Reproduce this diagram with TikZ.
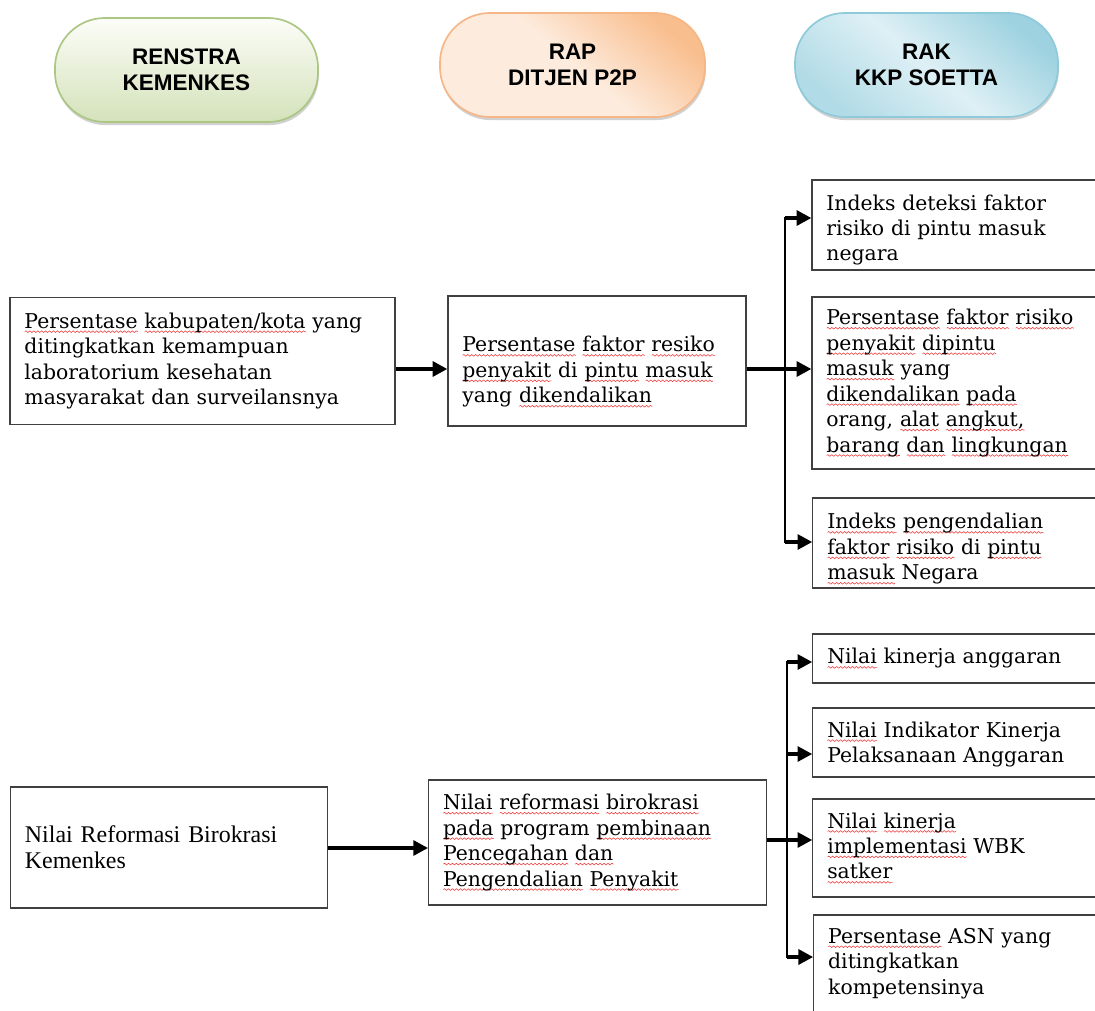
\documentclass[tikz,border=0pt]{standalone}
\usepackage{fontspec}
\setmainfont{DejaVu Serif}
\newfontfamily\headf{Liberation Sans}
\newfontfamily\timesf{Liberation Serif}
\usetikzlibrary{arrows.meta,shadows,decorations.pathmorphing}
\definecolor{gBorder}{RGB}{172,198,132}
\definecolor{gTop}{RGB}{252,253,248}
\definecolor{gBot}{RGB}{212,226,186}
\definecolor{oBorder}{RGB}{246,182,134}
\definecolor{oLight}{RGB}{253,236,222}
\definecolor{oDark}{RGB}{249,190,142}
\definecolor{bBorder}{RGB}{142,202,218}
\definecolor{bLight}{RGB}{222,240,245}
\definecolor{bDark}{RGB}{158,210,224}
\definecolor{sqred}{RGB}{240,60,60}
\newsavebox\sqbox
\newlength\sqlen
\newcommand\sq[1]{\sbox\sqbox{#1}\setlength\sqlen{\wd\sqbox}\leavevmode\rlap{\tikz[baseline=0pt]\draw[sqred, line width=0.4pt, decorate, decoration={snake, amplitude=0.6pt, segment length=2.8pt}] (0pt,-2.4pt) -- (\sqlen,-2.4pt);}\usebox\sqbox}
\newcommand\up[1]{\rule{0pt}{#1}}
\tikzset{
  box/.style={draw=black!75, line width=0.8pt, align=left, inner xsep=0.36cm, inner ysep=0pt,
    font=\fontsize{14.5}{18.1}\selectfont},
  tbox/.style={box, font=\timesf\fontsize{17}{18.6}\selectfont},
  pill/.style={rounded corners=1.25cm, minimum height=2.6cm, line width=1.2pt, align=center,
    font=\headf\bfseries\fontsize{16}{18.5}\selectfont,
    drop shadow={shadow xshift=0.6pt, shadow yshift=-2.2pt, opacity=0.3, fill=black!60}},
  arr/.style={line width=2.8pt, -{Triangle[length=10.5pt,width=10.5pt]}},
  bus/.style={line width=2pt, line cap=rect},
}
\begin{document}
\begin{tikzpicture}[x=0.025cm,y=-0.025cm]
\useasboundingbox (0,0) rectangle (1095,1010);
% header pills
\node[pill, draw=gBorder, top color=gTop, bottom color=gBot, minimum width=6.575cm] (p1) at (186.5,70) {RENSTRA\\KEMENKES};
\node[pill, draw=oBorder, top color=oDark, bottom color=oLight, middle color=oLight, shading angle=-40, minimum width=6.625cm] (p2) at (572.5,65) {RAP\\DITJEN P2P};
\node[pill, draw=bBorder, top color=bDark, bottom color=bDark!70!bLight, middle color=bLight, shading angle=-40, minimum width=6.575cm] (p3) at (926.5,65) {RAK\\KKP SOETTA};
% upper row
\node[box, minimum height=3.175cm, text width=8.9cm] (A1) at (202.5,361)
  {\sq{Persentase} \sq{kabupaten/kota} yang\\ ditingkatkan kemampuan\\ laboratorium kesehatan\\ masyarakat dan surveilansnya};
\node[box, minimum height=3.25cm, text width=6.73cm] (B1) at (597,361)
  {\up{26.6pt}\sq{Persentase} \sq{faktor} \sq{resiko}\\ \sq{penyakit} di \sq{pintu} \sq{masuk}\\ yang \sq{dikendalikan}};
\node[box, minimum height=2.25cm, text width=6.48cm] (C1) at (956,225)
  {\up{18.1pt}Indeks deteksi faktor\\ risiko di pintu masuk\\ negara};
\node[box, minimum height=4.3cm, text width=6.48cm] (C2) at (956,383)
  {\sq{Persentase} \sq{faktor} \sq{risiko}\\ \sq{penyakit} \sq{dipintu}\\ \sq{masuk} yang\\ \sq{dikendalikan} \sq{pada}\\ orang, \sq{alat} \sq{angkut,}\\ \sq{barang} \sq{dan} \sq{lingkungan}};
\node[box, minimum height=2.25cm, text width=6.46cm] (C3) at (956.5,543)
  {\up{19.5pt}\sq{Indeks} \sq{pengendalian}\\ \sq{faktor} \sq{risiko} di \sq{pintu}\\ \sq{masuk} Negara};
% lower row
\node[tbox, minimum height=3.025cm, text width=7.2cm] (A2) at (169,847.5)
  {Nilai Reformasi Birokrasi\\ Kemenkes};
\node[box, minimum height=3.125cm, text width=7.72cm] (B2) at (597.5,842.5)
  {\sq{Nilai} \sq{reformasi} \sq{birokrasi}\\ \sq{pada} program \sq{pembinaan}\\ \sq{Pencegahan} \sq{dan}\\ \sq{Pengendalian} \sq{Penyakit}};
\node[box, minimum height=1.225cm, text width=6.46cm] (D1) at (956.5,658.5)
  {\sq{Nilai} kinerja anggaran};
\node[box, minimum height=1.725cm, text width=6.46cm] (D2) at (956.5,742.5)
  {\up{13.8pt}\sq{Nilai} Indikator Kinerja\\ Pelaksanaan Anggaran};
\node[box, minimum height=2.45cm, text width=6.46cm] (D3) at (956.5,848)
  {\sq{Nilai} \sq{kinerja}\\ \sq{implementasi} WBK\\ \sq{satker}};
\node[box, minimum height=2.425cm, text width=6.44cm] (D4) at (957,963.5)
  {\sq{Persentase} ASN yang\\ ditingkatkan\\ kompetensinya};
% connector points
\coordinate (m1) at (420,369);
\coordinate (t1) at (785,218);
\coordinate (t2) at (785,542);
\coordinate (m2) at (380,848);
\coordinate (u1) at (787,662);
\coordinate (u2) at (787,754);
\coordinate (m3) at (787,840);
\coordinate (u4) at (787,957);
% upper connectors
\draw[arr] (A1.east |- m1) -- (B1.west |- m1);
\draw[bus] (t1) -- (t2);
\draw[arr] (B1.east |- m1) -- (C2.west |- m1);
\draw[arr] (t1) -- (C1.west |- t1);
\draw[arr] (t2) -- (C3.west |- t2);
% lower connectors
\draw[arr] (A2.east |- m2) -- (B2.west |- m2);
\draw[bus] (u1) -- (u4);
\draw[arr] (u1) -- (D1.west |- u1);
\draw[arr] (u2) -- (D2.west |- u2);
\draw[arr] (B2.east |- m3) -- (D3.west |- m3);
\draw[arr] (u4) -- (D4.west |- u4);
\end{tikzpicture}
\end{document}
